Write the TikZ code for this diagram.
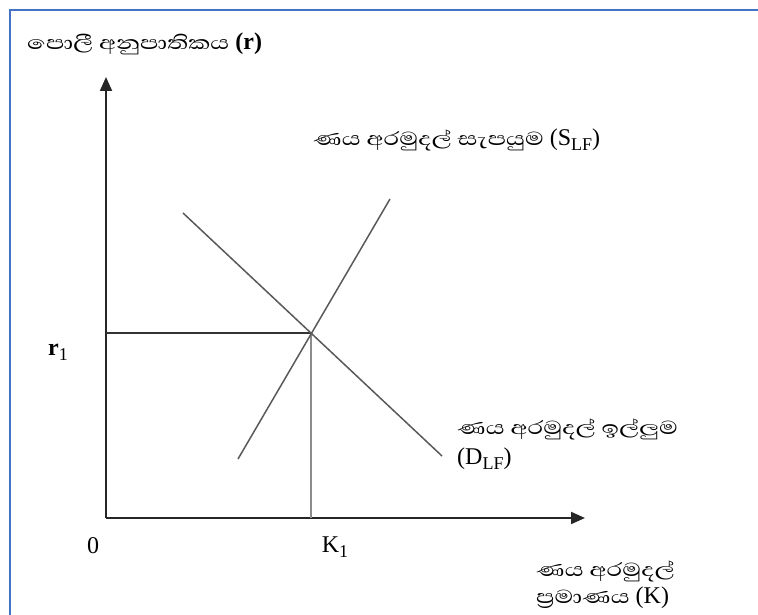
\documentclass[tikz,border=0pt]{standalone}
\usepackage{fontspec}
\setmainfont{Liberation Serif}
\newfontfamily\sinhf[Script=Sinhala,FakeStretch=1.3]{Abhaya Libre}
\usetikzlibrary{arrows.meta}
\newcommand\lowsub[1]{\raisebox{-0.2em}{\fontsize{18}{18}\selectfont #1}}
\newcommand\si[1]{{\sinhf\fontsize{24}{26}\selectfont #1}}
\definecolor{frameblue}{HTML}{4472C4}
\tikzset{
  axis/.style={draw=black!85, line width=2pt, -{Triangle[length=14pt,width=12pt]}},
  curve/.style={draw=black!65, line width=1.5pt},
  guideh/.style={draw=black!80, line width=1.5pt},
  guidev/.style={draw=black!45, line width=2.5pt},
  lbl/.style={inner sep=0pt, font=\fontsize{24}{26}\selectfont},
  slbl/.style={inner sep=0pt, font=\fontsize{24}{30}\selectfont, align=left},
  klbl/.style={inner sep=0pt, font=\fontsize{24}{27}\selectfont, align=left},
}
\begin{document}
\begin{tikzpicture}[x=1pt,y=-1pt]
\useasboundingbox (0,0) rectangle (758,615);
\draw[line width=2pt, draw=frameblue] (10,615) -- (10,10) -- (758,10);
% key points
\coordinate (O) at (106,518);
\coordinate (ytip) at (106,77);
\coordinate (xtip) at (585,518);
\coordinate (E) at (311,333);
\coordinate (Ey) at (106,333);
\coordinate (Ex) at (311,518);
\coordinate (Stop) at (390,199);
\coordinate (Sbot) at (238,459);
\coordinate (Dtop) at (183,213);
\coordinate (Dbot) at (442,456);
% axes
\draw[axis] (O) -- (ytip);
\draw[axis] (O) -- (xtip);
% guides
\draw[guideh] (Ey) -- (E);
\draw[guidev] (E) -- (Ex);
% curves
\draw[curve] (Sbot) -- (Stop);
\draw[curve] (Dtop) -- (Dbot);
% labels
\node[lbl, anchor=west] (ylab) at (27,44) {\si{පොලී අනුපාතිකය}\ \textbf{(r)}};
\node[lbl, anchor=west] (slab) at (313,140) {\si{ණය අරමුදල් සැපයුම}\ (S\lowsub{LF})};
\node[slbl, anchor=north west] (dlab) at (457,419) {\si{ණය අරමුදල් ඉල්ලුම}\\(D\lowsub{LF})};
\node[klbl, anchor=north west] (klab) at (536,561) {\si{ණය අරමුදල්}\\\si{ප්‍රමාණය}\ (K)};
\node[lbl] (r1) at (58,352) {\textbf{r}\lowsub{1}};
\node[lbl] (zero) at (93,546) {0};
\node[lbl] (k1) at (335,547) {K\lowsub{1}};
\end{tikzpicture}
\end{document}
